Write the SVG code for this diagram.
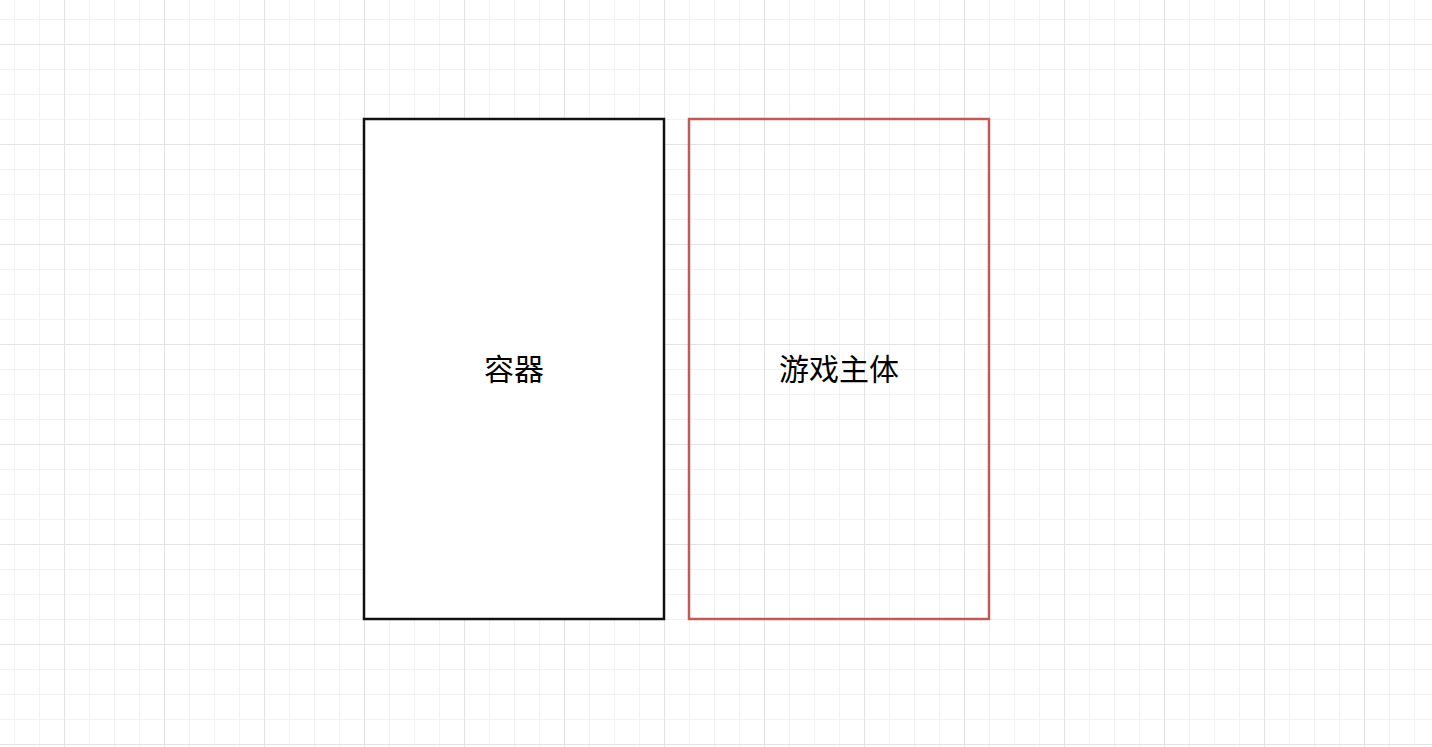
<svg xmlns="http://www.w3.org/2000/svg" width="1432" height="747" viewBox="0 0 1432 747">
<defs>
<pattern id="minor" x="14" y="19" width="25" height="25" patternUnits="userSpaceOnUse">
<path d="M0.5 0V25M0 0.5H25" stroke="#f2f2f2" stroke-width="1" fill="none"/>
</pattern>
<pattern id="major" x="64" y="44" width="100" height="100" patternUnits="userSpaceOnUse">
<path d="M0.5 0V100M0 0.5H100" stroke="#e3e3e3" stroke-width="1" fill="none"/>
</pattern>
</defs>
<style>
.lbl{font-family:"Noto Sans CJK SC","Microsoft YaHei",sans-serif;font-size:30px;fill:#000;text-anchor:middle;dominant-baseline:central}
</style>
<rect width="1432" height="747" fill="#ffffff"/>
<rect width="1432" height="747" fill="url(#minor)"/>
<rect width="1432" height="747" fill="url(#major)"/>
<g id="connectors"></g>
<g id="container">
<rect x="364" y="119" width="300" height="500" fill="#ffffff" stroke="#111111" stroke-width="2.5"/>
<text class="lbl" x="514" y="367">容器</text>
</g>
<g id="game-body">
<rect x="689" y="119" width="300" height="500" fill="none" stroke="#bf5a56" stroke-width="2.5"/>
<text class="lbl" x="839" y="367">游戏主体</text>
</g>
</svg>
